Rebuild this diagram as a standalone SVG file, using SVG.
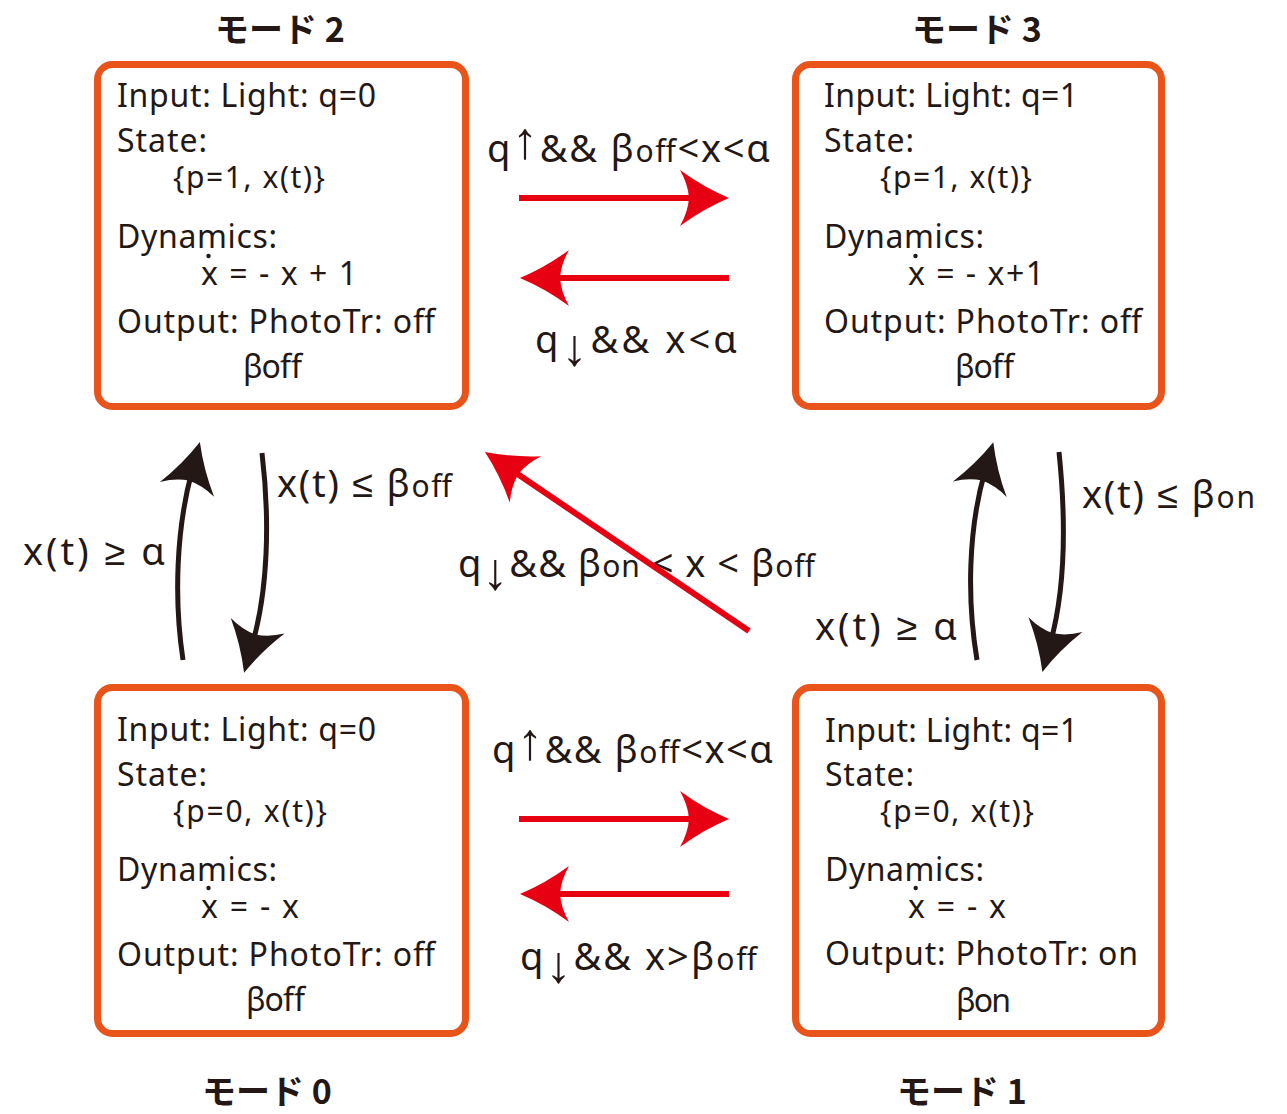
<svg xmlns="http://www.w3.org/2000/svg" width="1287" height="1114" viewBox="0 0 1287 1114">
<style>
.box{fill:#fff;stroke:#E85419;stroke-width:7}
.t{font-family:"Noto Sans","Liberation Sans",sans-serif;font-size:32px;fill:#231815}
.s{font-size:30px}
.lb{font-family:"Noto Sans","Liberation Sans",sans-serif;font-size:38px;fill:#231815}
.sub{font-size:30px}
.ar{font-family:"Liberation Sans","DejaVu Sans",sans-serif;font-size:52px}
.m{font-family:"Noto Sans CJK JP","Noto Sans",sans-serif;font-weight:bold;font-size:34px;fill:#231815}
.red{fill:none;stroke:#E60012;stroke-width:6}
.blk{fill:none;stroke:#231815;stroke-width:5}
.dot{fill:#231815}
</style>
<defs>
<marker id="redHead" viewBox="0 0 50 56" markerWidth="50" markerHeight="56" refX="20" refY="28" orient="auto" markerUnits="userSpaceOnUse">
<path d="M50,28 Q24,17 1,0 Q9,14 10,28 Q9,42 1,56 Q24,39 50,28 Z" fill="#E60012"/>
</marker>
<marker id="blackHead" viewBox="0 0 50 56" markerWidth="50" markerHeight="56" refX="20" refY="28" orient="auto" markerUnits="userSpaceOnUse">
<path d="M50,28 Q24,17 1,0 Q9,14 10,28 Q9,42 1,56 Q24,39 50,28 Z" fill="#231815"/>
</marker>
</defs>

<g id="mode2">
<rect class="box" x="97.5" y="64.5" width="368" height="342" rx="15"/>
<text class="t" x="117" y="107" textLength="259">Input: Light: q=0</text>
<text class="t" x="117" y="152" textLength="90">State:</text>
<text class="t s" x="173" y="188" textLength="152">{p=1, x(t)}</text>
<text class="t" x="117" y="248" textLength="160">Dynamics:</text>
<circle class="dot" cx="208.5" cy="256" r="2.2"/>
<text class="t" x="201" y="285" textLength="156">x = - x + 1</text>
<text class="t" x="117" y="333" textLength="318">Output: PhotoTr: off</text>
<text class="t" x="243" y="378" textLength="59">βoff</text>
<text class="m" x="280" y="42" text-anchor="middle">モード 2</text>
</g>

<g id="mode3">
<rect class="box" x="795.5" y="64.5" width="366" height="342" rx="15"/>
<text class="t" x="824" y="107" textLength="254">Input: Light: q=1</text>
<text class="t" x="824" y="152" textLength="90">State:</text>
<text class="t s" x="880" y="188" textLength="152">{p=1, x(t)}</text>
<text class="t" x="824" y="248" textLength="160">Dynamics:</text>
<circle class="dot" cx="915.5" cy="256" r="2.2"/>
<text class="t" x="908" y="285" textLength="136">x = - x+1</text>
<text class="t" x="824" y="333" textLength="318">Output: PhotoTr: off</text>
<text class="t" x="955" y="378" textLength="59">βoff</text>
<text class="m" x="977" y="42" text-anchor="middle">モード 3</text>
</g>

<g id="mode0">
<rect class="box" x="97.5" y="687.5" width="368" height="346" rx="15"/>
<text class="t" x="117" y="741" textLength="259">Input: Light: q=0</text>
<text class="t" x="117" y="786" textLength="90">State:</text>
<text class="t s" x="173" y="822" textLength="154">{p=0, x(t)}</text>
<text class="t" x="117" y="881" textLength="160">Dynamics:</text>
<circle class="dot" cx="208.5" cy="888" r="2.2"/>
<text class="t" x="201" y="918" textLength="98">x = - x</text>
<text class="t" x="117" y="966" textLength="318">Output: PhotoTr: off</text>
<text class="t" x="246" y="1011" textLength="59">βoff</text>
<text class="m" x="267" y="1104" text-anchor="middle">モード 0</text>
</g>

<g id="mode1">
<rect class="box" x="795.5" y="687.5" width="366" height="346" rx="15"/>
<text class="t" x="825" y="742" textLength="253">Input: Light: q=1</text>
<text class="t" x="825" y="786" textLength="89">State:</text>
<text class="t s" x="880" y="822" textLength="154">{p=0, x(t)}</text>
<text class="t" x="825" y="881" textLength="159">Dynamics:</text>
<circle class="dot" cx="915.7" cy="888" r="2.2"/>
<text class="t" x="908" y="918" textLength="98">x = - x</text>
<text class="t" x="825" y="965" textLength="313">Output: PhotoTr: on</text>
<text class="t" x="956" y="1012" textLength="55">βon</text>
<text class="m" x="962" y="1104" text-anchor="middle">モード 1</text>
</g>

<g id="edge-labels">
<text class="lb" x="487" y="162" textLength="283">q<tspan class="ar" dy="-4">↑</tspan><tspan dy="4">&amp;&amp; β</tspan><tspan class="sub">off</tspan>&lt;x&lt;α</text>
<text class="lb" x="535" y="353" textLength="202">q<tspan class="ar" dy="12">↓</tspan><tspan dy="-12">&amp;&amp; x&lt;α</tspan></text>
<text class="lb" x="492" y="763" textLength="281">q<tspan class="ar" dy="-4">↑</tspan><tspan dy="4">&amp;&amp; β</tspan><tspan class="sub">off</tspan>&lt;x&lt;α</text>
<text class="lb" x="520" y="970" textLength="237">q<tspan class="ar" dy="12">↓</tspan><tspan dy="-12">&amp;&amp; x&gt;β</tspan><tspan class="sub">off</tspan></text>
<text class="lb" x="23" y="565" textLength="142">x(t) ≥ α</text>
<text class="lb" x="277" y="497" textLength="175">x(t) ≤ β<tspan class="sub">off</tspan></text>
<text class="lb" x="1082" y="508" textLength="173">x(t) ≤ β<tspan class="sub">on</tspan></text>
<text class="lb" x="815" y="640" textLength="142">x(t) ≥ α</text>
<text class="lb" x="458" y="577" textLength="357">q<tspan class="ar" dy="12">↓</tspan><tspan dy="-12">&amp;&amp; β</tspan><tspan class="sub">on</tspan> &lt; x &lt; β<tspan class="sub">off</tspan></text>
</g>

<g id="connectors">
<line class="red" x1="519" y1="198" x2="699" y2="198" marker-end="url(#redHead)"/>
<line class="red" x1="729" y1="278" x2="550" y2="278" marker-end="url(#redHead)"/>
<line class="red" x1="519" y1="819" x2="699" y2="819" marker-end="url(#redHead)"/>
<line class="red" x1="729" y1="894" x2="550" y2="894" marker-end="url(#redHead)"/>
<line class="red" x1="749" y1="631" x2="509.8" y2="468.8" marker-end="url(#redHead)"/>
<path class="blk" d="M183,660 C174,600 176,530 192,471" marker-end="url(#blackHead)"/>
<path class="blk" d="M262,453 C270,520 268,590 252.4,644" marker-end="url(#blackHead)"/>
<path class="blk" d="M977,660 C967,600 968,530 985,471" marker-end="url(#blackHead)"/>
<path class="blk" d="M1059,452 C1066,520 1065,590 1050.4,643" marker-end="url(#blackHead)"/>
</g>
</svg>
